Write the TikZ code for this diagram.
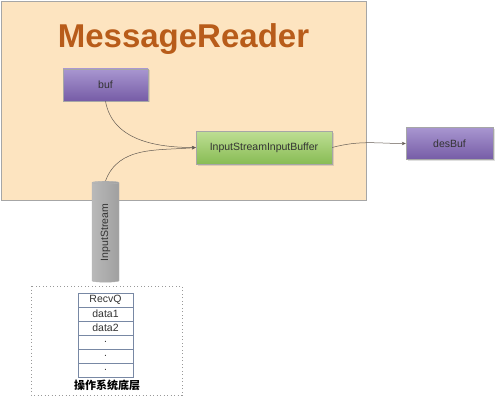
\documentclass[tikz,border=0pt]{standalone}
\usepackage{fontspec}
\setmainfont{Liberation Sans}
\newfontfamily\cjk{Noto Sans CJK SC}
\usepackage{xcolor}
\usetikzlibrary{shapes.geometric, arrows.meta, shadows}

\definecolor{peach}{RGB}{253,228,192}
\definecolor{titlebrown}{RGB}{184,92,26}
\definecolor{purpletop}{RGB}{168,150,208}
\definecolor{purplebot}{RGB}{118,92,166}
\definecolor{greentop}{RGB}{190,222,148}
\definecolor{greenbot}{RGB}{136,188,84}
\definecolor{rowline}{RGB}{120,136,164}
\definecolor{linkgray}{RGB}{100,92,84}

\tikzset{
    boxtext/.style={font=\fontsize{10.5}{12}\selectfont, text=black!80},
    purplebox/.style={boxtext, draw=gray!70, top color=purpletop, bottom color=purplebot,
        minimum height=32pt, drop shadow={opacity=0.25, shadow xshift=1.5pt, shadow yshift=-1.5pt}},
    greenbox/.style={boxtext, draw=gray!70, top color=greentop, bottom color=greenbot,
        minimum height=33pt, drop shadow={opacity=0.25, shadow xshift=1.5pt, shadow yshift=-1.5pt}},
    queuerow/.style={boxtext, draw=rowline, fill=white, minimum width=55pt, minimum height=14pt, inner sep=0pt},
    link/.style={draw=linkgray, line width=0.5pt, -{Stealth[length=4pt, width=3.5pt]}}
}

\begin{document}
\begin{tikzpicture}[x=1pt, y=-1pt]
    \useasboundingbox (0, 0) rectangle (500, 401);
    \fill[white] (0, 0) rectangle (500, 401);

    % reader frame
    \draw[gray!70, fill=peach] (1, 1) rectangle (366, 200);
    \node[anchor=base, font=\fontsize{33}{36}\selectfont\bfseries, text=titlebrown] at (183.5, 48) (title) {MessageReader};

    \node[purplebox, minimum width=85pt] at (105.5, 85) (buf) {buf};
    \node[greenbox, minimum width=136pt] at (264, 147.5) (isib) {InputStreamInputBuffer};
    \node[purplebox, minimum width=87pt] at (449.5, 143.5) (desbuf) {desBuf};

    \node[cylinder, shape border rotate=90, draw=gray!60, aspect=0.3, inner sep=0pt,
        minimum width=27pt, minimum height=101pt,
        left color=gray!55, middle color=gray!35, right color=gray!75, boxtext] at (105.5, 232.5) (stream) {\rotatebox{90}{InputStream}};

    % os queue
    \draw[gray!80, dash pattern=on 1pt off 2.5pt] (31, 286) rectangle (182, 395);
    \node[queuerow] at (105.5, 300) (recvq) {RecvQ};
    \node[queuerow] at (105.5, 314) (data1) {data1};
    \node[queuerow] at (105.5, 328) (data2) {data2};
    \foreach \i in {0, 1, 2} {
        \node[queuerow] at (105.5, 342 + 14*\i) (dot\i) {.};
    }
    \node[font=\cjk\bfseries\fontsize{11}{13}\selectfont] at (107, 385) (oslayer) {操作系统底层};

    \draw[link] (buf.south) to[out=-80, in=180] (isib.west);
    \draw[link] (stream.top) to[out=70, in=185] (isib.west);
    \draw[link] (isib.east) to[out=15, in=180] (desbuf.west);
\end{tikzpicture}
\end{document}
